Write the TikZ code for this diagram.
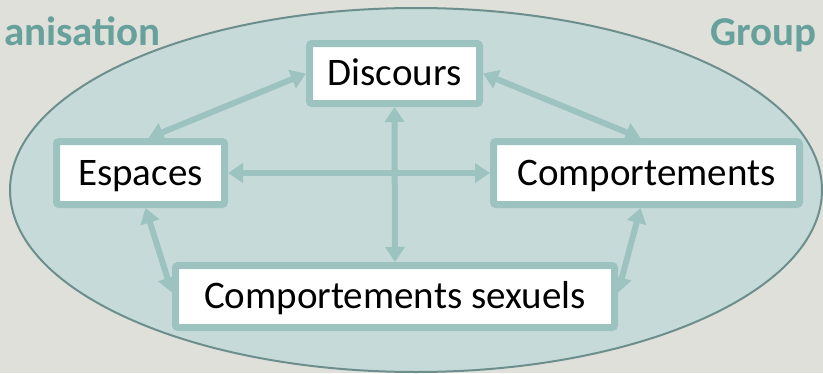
\documentclass[tikz,border=0pt]{standalone}
\usepackage{fontspec}
\setmainfont{Carlito}
\usetikzlibrary{arrows.meta}
\definecolor{bgc}{HTML}{E0E0DB}
\definecolor{ellc}{HTML}{C6DAD9}
\definecolor{ellline}{HTML}{6C8F8D}
\definecolor{boxc}{HTML}{9DC3C1}
\definecolor{labc}{HTML}{66A19C}
\tikzset{
  box/.style={draw=boxc, fill=white, line width=7pt, rounded corners=2.5pt,
    text height=24pt, text depth=0pt, inner sep=0pt,
    font=\fontsize{39}{46}\selectfont},
  arr/.style={draw=boxc, line width=6pt,
    {Triangle[width=19pt,length=15pt]}-{Triangle[width=19pt,length=15pt]}},
  lab/.style={text=labc, inner sep=0pt, font=\fontsize{41}{48}\selectfont\bfseries}
}
\begin{document}
\begin{tikzpicture}[x=1pt,y=-1pt]
\fill[bgc] (0,0) rectangle (823,373);
\useasboundingbox (0,0) rectangle (823,373);
\draw[fill=ellc, draw=ellline, line width=2pt] (416,190) ellipse [x radius=406, y radius=182];
\node[lab, anchor=base east] (org) at (161,45) {anisation};
\node[lab, anchor=base west] (grp) at (710,45) {Group};
\node[box, minimum width=170pt, minimum height=60pt] (disc) at (394.5,73.5) {Discours};
\node[box, minimum width=168pt, minimum height=63pt] (esp) at (140.5,173) {Espaces};
\node[box, minimum width=306pt, minimum height=63pt] (comp) at (646.5,173) {Comportements};
\node[box, minimum width=439pt, minimum height=62pt] (sex) at (395,296.5) {Comportements sexuels};
\draw[arr] (disc.west) -- ([xshift=8pt]esp.north);
\draw[arr] (disc.east) -- ([xshift=-6pt]comp.north);
\draw[arr] (esp.east) -- (comp.west);
\draw[arr] (disc.south) -- (sex.north);
\draw[arr] ([xshift=5pt]esp.south) -- ([yshift=4pt]sex.west);
\draw[arr] ([xshift=-6pt]comp.south) -- ([yshift=4pt]sex.east);
\end{tikzpicture}
\end{document}
